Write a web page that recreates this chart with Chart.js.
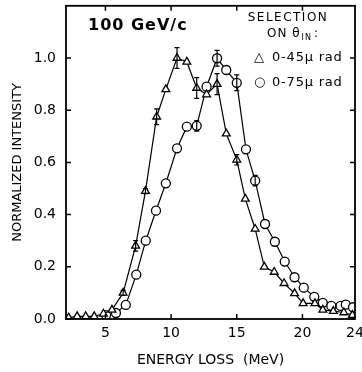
<!DOCTYPE html>
<html>
<head>
<meta charset="utf-8">
<script src="https://cdn.jsdelivr.net/npm/chart.js@4"></script>
<style>
  html, body { margin: 0; padding: 0; background: #fff; }
  #wrap { width: 362px; height: 372px; }
</style>
</head>
<body>
<div id="wrap"><canvas id="chartContainer" width="362" height="372"></canvas></div>
<script>
// données (perte d'énergie en MeV, intensité normalisée)
var triX   = [2.2, 2.85, 3.5, 4.15, 4.85, 5.5, 6.35, 7.3, 8.05, 8.9, 9.6, 10.45, 11.2, 11.95, 12.7, 13.5, 14.2, 15.0, 15.65, 16.4, 17.1, 17.85, 18.6, 19.4, 20.05, 20.95, 21.55, 22.35, 23.15, 23.8];
var triY   = [0.005, 0.01, 0.01, 0.01, 0.02, 0.035, 0.10, 0.28, 0.49, 0.775, 0.88, 1.00, 0.985, 0.885, 0.86, 0.90, 0.71, 0.61, 0.46, 0.345, 0.20, 0.18, 0.137, 0.098, 0.06, 0.06, 0.035, 0.03, 0.025, 0.015];
var triErr = [0, 0, 0, 0, 0, 0, 0.01, 0.02, 0.01, 0.03, 0, 0.04, 0, 0.04, 0, 0.04, 0, 0.02, 0, 0, 0, 0, 0, 0, 0, 0, 0, 0, 0, 0];

var circX   = [5.05, 5.8, 6.55, 7.35, 8.07, 8.85, 9.6, 10.45, 11.2, 11.95, 12.7, 13.5, 14.2, 15.0, 15.7, 16.4, 17.15, 17.9, 18.65, 19.4, 20.1, 20.9, 21.55, 22.2, 22.9, 23.3, 23.85];
var circY   = [0.015, 0.023, 0.054, 0.17, 0.30, 0.415, 0.52, 0.654, 0.737, 0.74, 0.89, 0.999, 0.954, 0.905, 0.65, 0.53, 0.364, 0.296, 0.22, 0.16, 0.12, 0.085, 0.062, 0.05, 0.05, 0.055, 0.045];
var circErr = [0, 0, 0, 0, 0, 0, 0, 0, 0, 0.02, 0, 0.03, 0, 0.03, 0, 0.02, 0, 0, 0, 0, 0, 0, 0, 0, 0, 0, 0];

var xTicks = [5, 10, 15, 20, 24];
var yTicks = [0.0, 0.2, 0.4, 0.6, 0.8, 1.0];

var titre = '100 GeV/c';
var legendeTitre = ['SELECTION', 'ON θ'];
var legendeSeries = ['0-45μ rad', '0-75μ rad'];

function toPoints(xs, ys) {
    var pts = [];
    for (var i = 0; i < xs.length; i++) pts.push({x: xs[i], y: ys[i]});
    return pts;
}

// barres d'erreur, cadre, graduations intérieures et textes dans le graphique
var decorPlugin = {
    id: 'decor',
    afterDatasetsDraw: function(chart) {
        var ctx = chart.ctx;
        var xs = chart.scales.x, ys = chart.scales.y;
        var a = chart.chartArea;
        ctx.save();
        ctx.strokeStyle = '#000';
        ctx.lineWidth = 1.2;

        // barres d'erreur
        var sets = [[triX, triY, triErr], [circX, circY, circErr]];
        sets.forEach(function(s) {
            for (var i = 0; i < s[0].length; i++) {
                if (!s[2][i]) continue;
                var px = xs.getPixelForValue(s[0][i]);
                var y1 = ys.getPixelForValue(s[1][i] + s[2][i]);
                var y2 = ys.getPixelForValue(s[1][i] - s[2][i]);
                ctx.beginPath();
                ctx.moveTo(px, y1); ctx.lineTo(px, y2);
                ctx.moveTo(px - 2.5, y1); ctx.lineTo(px + 2.5, y1);
                ctx.moveTo(px - 2.5, y2); ctx.lineTo(px + 2.5, y2);
                ctx.stroke();
            }
        });

        // cadre
        ctx.lineWidth = 1.8;
        ctx.strokeRect(a.left, a.top, a.right - a.left, a.bottom - a.top);

        // graduations vers l'intérieur, sur les quatre côtés
        ctx.lineWidth = 1.5;
        ctx.beginPath();
        [5, 10, 15, 20].forEach(function(v) {
            var px = xs.getPixelForValue(v);
            ctx.moveTo(px, a.bottom); ctx.lineTo(px, a.bottom - 5);
            ctx.moveTo(px, a.top); ctx.lineTo(px, a.top + 5);
        });
        yTicks.forEach(function(v) {
            var py = ys.getPixelForValue(v);
            ctx.moveTo(a.left, py); ctx.lineTo(a.left + 5, py);
            ctx.moveTo(a.right, py); ctx.lineTo(a.right - 5, py);
        });
        ctx.stroke();

        // textes
        ctx.fillStyle = '#000';
        ctx.textBaseline = 'middle';
        ctx.letterSpacing = '1px';
        ctx.font = 'bold 16px "DejaVu Sans"';
        ctx.textAlign = 'left';
        ctx.fillText(titre, 88, 26);

        ctx.font = '12px "DejaVu Sans"';
        ctx.letterSpacing = '1.5px';
        ctx.textAlign = 'center';
        ctx.fillText(legendeTitre[0], 288, 18);
        ctx.letterSpacing = '1px';
        ctx.textAlign = 'left';
        ctx.fillText(legendeTitre[1], 267, 34);
        var w = ctx.measureText(legendeTitre[1]).width;
        ctx.font = '8px "DejaVu Sans"';
        ctx.fillText('IN', 267 + w + 1, 38);
        var w2 = ctx.measureText('IN').width;
        ctx.font = '12px "DejaVu Sans"';
        ctx.fillText(':', 267 + w + w2 + 3, 34);

        ctx.font = '13px "DejaVu Sans"';
        ctx.letterSpacing = '0.8px';
        ctx.fillText('△', 254, 58);
        ctx.fillText('○', 254, 83);
        ctx.fillText(legendeSeries[0], 272, 58);
        ctx.fillText(legendeSeries[1], 272, 83);
        ctx.restore();
    }
};

var ctx = document.getElementById('chartContainer').getContext('2d');
ctx.chart = new Chart(ctx, {
    type: 'line',
    data: {
        datasets: [{
            label: '0-45 μrad',
            data: toPoints(triX, triY),
            borderColor: '#000',
            borderWidth: 1.2,
            pointStyle: 'triangle',
            pointRadius: 4.5,
            pointBorderWidth: 1.3,
            pointBackgroundColor: '#fff',
            pointBorderColor: '#000',
            tension: 0
        }, {
            label: '0-75 μrad',
            data: toPoints(circX, circY),
            borderColor: '#000',
            borderWidth: 1.2,
            pointStyle: 'circle',
            pointRadius: 4.5,
            pointBorderWidth: 1.3,
            pointBackgroundColor: '#fff',
            pointBorderColor: '#000',
            tension: 0
        }]
    },
    options: {
        responsive: false,
        animation: false,
        layout: { padding: { left: 0, right: 7, top: 4, bottom: 0 } },
        plugins: {
            legend: { display: false },
            tooltip: { enabled: false }
        },
        scales: {
            x: {
                type: 'linear',
                min: 2,
                max: 24,
                afterBuildTicks: function(s) { s.ticks = xTicks.map(function(v) { return {value: v}; }); },
                afterFit: function(s) { s.height = 53; s.paddingLeft = 0; s.paddingRight = 0; },
                grid: { display: false, drawTicks: false },
                border: { display: false },
                ticks: {
                    color: '#000',
                    padding: 6,
                    maxRotation: 0,
                    font: { family: '"DejaVu Sans"', size: 14 }
                },
                title: {
                    display: true,
                    text: 'ENERGY LOSS  (MeV)',
                    color: '#000',
                    padding: { bottom: 3 },
                    font: { family: '"DejaVu Sans"', size: 14 }
                }
            },
            y: {
                type: 'linear',
                min: 0,
                max: 1.2,
                afterBuildTicks: function(s) { s.ticks = yTicks.map(function(v) { return {value: v}; }); },
                afterFit: function(s) { s.width = 66; s.paddingTop = 0; s.paddingBottom = 0; },
                grid: { display: false, drawTicks: false },
                border: { display: false },
                ticks: {
                    color: '#000',
                    padding: 10,
                    font: { family: '"DejaVu Sans"', size: 14 },
                    callback: function(v) { return v.toFixed(1); }
                },
                title: {
                    display: true,
                    text: 'NORMALIZED INTENSITY',
                    color: '#000',
                    padding: { top: 10 },
                    font: { family: '"DejaVu Sans"', size: 13 }
                }
            }
        }
    },
    plugins: [decorPlugin]
});
</script>
</body>
</html>
